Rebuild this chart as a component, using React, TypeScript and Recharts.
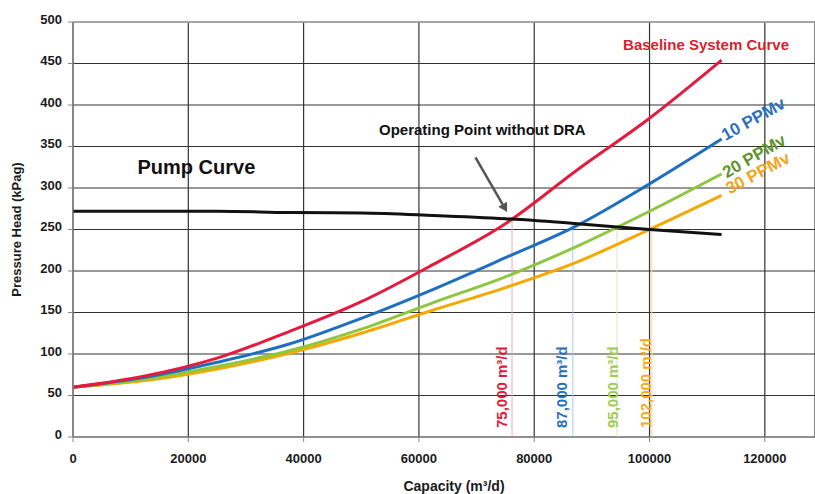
import React from "react";
import {
  LineChart,
  Line,
  XAxis,
  YAxis,
  CartesianGrid,
  ReferenceLine,
  ReferenceDot,
} from "recharts";

// ---- data ----
const capacity = [0, 12500, 25000, 37500, 50000, 62500, 75000, 87500, 100000, 112500];
const baseline = [60, 73.5, 95, 127, 163, 208, 257, 322, 384, 454];
const ppm10 = [60, 72, 90, 112, 143, 178, 216, 255, 305, 359];
const ppm20 = [60, 70, 85, 104, 130, 162, 193, 230, 272, 317];
const ppm30 = [60, 68, 82, 101, 125, 153, 180, 211, 250, 291];
const pump = [272, 272, 272, 270.5, 270, 267, 263, 257, 250, 244];

const xTicks = [0, 20000, 40000, 60000, 80000, 100000, 120000];
const yTicks = [0, 50, 100, 150, 200, 250, 300, 350, 400, 450, 500];

// operating points (capacity, head at pump curve) and their labels
const opCapacity = [76150, 86700, 94350, 100400];
const opHead = [262, 257, 253, 250];
const opLabels = ["75,000 m³/d", "87,000 m³/d", "95,000 m³/d", "102,000 m³/d"];
const opLabelX = [74400, 84800, 93500, 99300];
const opLineColors = ["#f2a7b1", "#abc8ea", "#dbe9b8", "#f8dc95"];
const opTextColors = ["#e21c3c", "#2a6fbd", "#a0cc55", "#f5aa1c"];

const data = capacity.map((c, i) => ({
  x: c,
  baseline: baseline[i],
  ppm10: ppm10[i],
  ppm20: ppm20[i],
  ppm30: ppm30[i],
  pump: pump[i],
}));

const FONT = "'Liberation Sans', Arial, Helvetica, sans-serif";

const textShape =
  (text: string, color: string, size: number, rotate = 0) =>
  (p: any) => (
    <text
      x={p.cx}
      y={p.cy}
      fill={color}
      fontSize={size}
      fontWeight="bold"
      fontFamily={FONT}
      textAnchor="middle"
      dominantBaseline="central"
      transform={rotate ? `rotate(${rotate} ${p.cx} ${p.cy})` : undefined}
    >
      {text}
    </text>
  );

const vertShape = (text: string, color: string) => (p: any) => (
  <text
    x={p.cx}
    y={p.cy}
    fill={color}
    fontSize={15}
    fontWeight="bold"
    fontFamily={FONT}
    textAnchor="start"
    dominantBaseline="central"
    transform={`rotate(-90 ${p.cx} ${p.cy})`}
  >
    {text}
  </text>
);

const arrowShape = (p: any) => {
  const { x1, y1, x2, y2 } = p;
  const ang = Math.atan2(y2 - y1, x2 - x1);
  const len = 9;
  const w = 5;
  const bx = x2 - len * Math.cos(ang);
  const by = y2 - len * Math.sin(ang);
  const px = -Math.sin(ang) * w;
  const py = Math.cos(ang) * w;
  return (
    <g>
      <line x1={x1} y1={y1} x2={bx} y2={by} stroke="#555" strokeWidth={2.5} />
      <polygon
        points={`${x2},${y2} ${bx + px},${by + py} ${bx - px},${by - py}`}
        fill="#555"
      />
    </g>
  );
};

export default function App() {
  return (
    <div style={{ position: "absolute", left: 0, top: 0, background: "#fff" }}>
      <LineChart
        width={815}
        height={494}
        data={data}
        margin={{ top: 22, right: 0, bottom: 0, left: 0 }}
      >
        <CartesianGrid stroke="#333" strokeWidth={1.2} />
        <XAxis
          dataKey="x"
          type="number"
          domain={[0, 128700]}
          ticks={xTicks}
          height={57}
          tickSize={5}
          tickMargin={12}
          stroke="#888"
          tick={{ fontSize: 13, fontWeight: "bold", fill: "#1a1a1a", fontFamily: FONT }}
          label={{
            content: (props: any) => {
              const vb = props.viewBox;
              return (
                <text
                  x={vb.x + vb.width / 2 + 10}
                  y={vb.y + 54}
                  textAnchor="middle"
                  fontSize={14}
                  fontWeight="bold"
                  fontFamily={FONT}
                  fill="#1a1a1a"
                >
                  Capacity (m³/d)
                </text>
              );
            },
          }}
        />
        <YAxis
          type="number"
          domain={[0, 500]}
          ticks={yTicks}
          width={73}
          tickSize={5}
          tickMargin={6}
          stroke="#888"
          tick={{ fontSize: 13, fontWeight: "bold", fill: "#1a1a1a", fontFamily: FONT, dy: -3 }}
          label={{
            content: (props: any) => {
              const vb = props.viewBox;
              const cx = 16;
              const cy = vb.y + vb.height / 2;
              return (
                <text
                  x={cx}
                  y={cy}
                  textAnchor="middle"
                  dominantBaseline="central"
                  fontSize={13}
                  fontWeight="bold"
                  fontFamily={FONT}
                  fill="#1a1a1a"
                  transform={`rotate(-90 ${cx} ${cy})`}
                >
                  Pressure Head (kPag)
                </text>
              );
            },
          }}
        />
        <ReferenceLine y={500} stroke="#aaa" strokeWidth={1.5} />

        {opCapacity.map((c, i) => (
          <ReferenceLine
            key={"op" + i}
            segment={[
              { x: c, y: 0 },
              { x: c, y: opHead[i] },
            ]}
            stroke={opLineColors[i]}
            strokeWidth={1}
          />
        ))}

        <Line type="monotone" dataKey="ppm30" stroke="#f5a800" strokeWidth={3} dot={false} isAnimationActive={false} />
        <Line type="monotone" dataKey="ppm20" stroke="#8dc63f" strokeWidth={3} dot={false} isAnimationActive={false} />
        <Line type="monotone" dataKey="ppm10" stroke="#1f6fc1" strokeWidth={3} dot={false} isAnimationActive={false} />
        <Line type="monotone" dataKey="baseline" stroke="#e41b3e" strokeWidth={3} dot={false} isAnimationActive={false} />
        <Line type="monotone" dataKey="pump" stroke="#111" strokeWidth={3} dot={false} isAnimationActive={false} />

        <ReferenceLine
          segment={[
            { x: 69800, y: 337 },
            { x: 75300, y: 271 },
          ]}
          shape={arrowShape}
        />

        {opLabels.map((t, i) => (
          <ReferenceDot
            key={"lbl" + i}
            x={opLabelX[i]}
            y={10.8}
            r={0}
            shape={vertShape(t, opTextColors[i])}
          />
        ))}

        <ReferenceDot x={21400} y={325} r={0} shape={textShape("Pump Curve", "#111", 20)} />
        <ReferenceDot x={71000} y={370.8} r={0} shape={textShape("Operating Point without DRA", "#111", 15)} />
        <ReferenceDot x={109800} y={472.3} r={0} shape={textShape("Baseline System Curve", "#d61f30", 15)} />
        <ReferenceDot x={118000} y={383} r={0} shape={textShape("10 PPMv", "#2a6fbd", 17, -29)} />
        <ReferenceDot x={118150} y={338.3} r={0} shape={textShape("20 PPMv", "#5f932c", 17, -30)} />
        <ReferenceDot x={118800} y={317.8} r={0} shape={textShape("30 PPMv", "#f2a51c", 17, -28)} />
      </LineChart>
    </div>
  );
}
